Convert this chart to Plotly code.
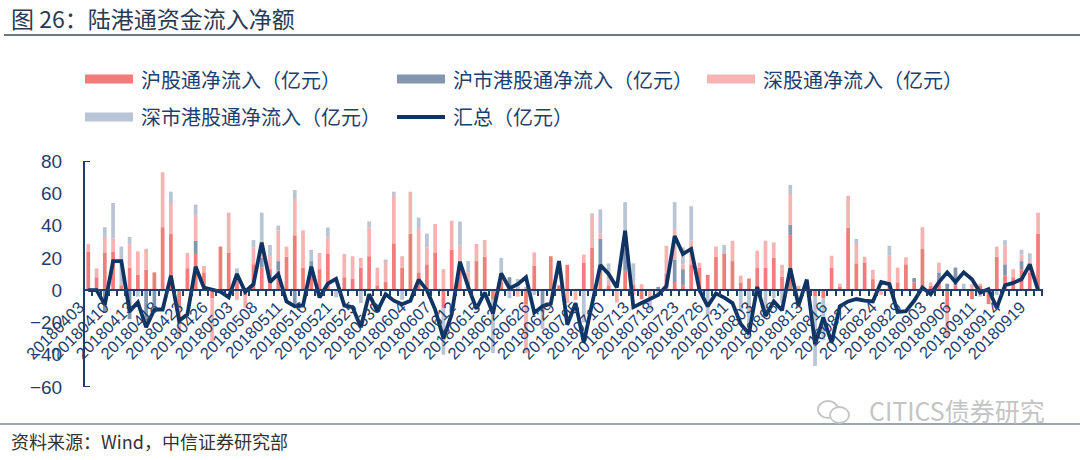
import pandas as pd
import plotly.graph_objects as go

# ---- trading days (Stock Connect, 2018-04-03 .. 2018-09-20) ----
CLOSED = ["2018-04-05", "2018-04-06", "2018-04-30", "2018-05-01",
          "2018-05-22", "2018-06-18", "2018-07-02"]
trade_days = [d.strftime("%Y%m%d") for d in pd.bdate_range("2018-04-03", "2018-09-20")
              if d.strftime("%Y-%m-%d") not in CLOSED]

# ---- net inflows, 亿元 ----
sh_north = [24, 8, 23, 24, 3, 14, 9.5, 12.6, 11, 39, 35, -11, 13.6, 23, 11,
            -5, 27, 23, 5, -3, 16, 14, 13, 12, 20.7, 34, 14, 12, 13, 22.8,
            0, 8, 7, 14, 21, 3, 5, 29, 14, 35, 11, 16, 23.4, -11, 25,
            18, 5, 18, 20.7, -6, 5, 2, 0, -9, 15, 0, 21, 3, 15.7, 0,
            17, 26.5, 15, 3, 0, 12, 3.6, -5.6, 0, 0, 10, 5, 3, 16, 14,
            9.5, 20.7, 22.8, 18, 4.8, 7.2, 13.7, 14, 20, 8.3, 33.7, 0, 2, -4, -5,
            14, 2, 38.5, 16.6, 17.2, 6.8, 0, 4.8, 4.8, 16, 4.8, 25.5, 2.7, 5, -12,
            3, 0, -5.6, 3, -8.7, 20.7, 9, 8, 13, 11, 34.8]
sh_south = [0, 0, -14, 0, 0, -18, 0, -21, -10, 0, 0, 0, 0, 7.6, 0,
            0, 0, 0, 5, 0, 0, 6, 0, 6, 0, -9, 0, 6, 0, 0,
            0, 0, 0, 0, 0, 0, 0, 0, 0, 0, 0, 0, 0, 0, 0,
            0, 0, 0, 0, 0, 0, 6, 0, 0, 0, -14, 0, 0, 0, 0,
            0, 0, 17, 0, 0, 14, 0, 0, 0, 2, 0, 14, 10, 0, 0,
            0, 0, 0, 0, 0, 0, 0, 0, 0, 0, 6.9, 0, 0, 0, 0,
            0, 0, 0, 0, 0, 0, 0, 0, 0, 0, 2.7, 0, 0, 6, 4,
            11, 0, 0, 0, 0, 0, 7, 0, 5, 0, 0]
sz_north = [4.5, 5.5, 10, 8, 0, 14.5, 14.5, 13, 0, 34, 19, -18, 9.4, 15.4, 4,
            -27, 0, 25, -6, -8, 10.5, 10.6, 8, 19, 6.3, 22.5, 23, 0, 10, 10,
            0, 14.4, 14, 6, 18, 11, 13, 30, 7, 26, 27, 10.5, 17.6, 13, 18,
            9.5, 6, 10.6, 10.3, 0, 4, 0, -4, -30, 8.4, 0, 0, 0, -8, -6,
            5, 19.5, 3, 3.6, -7.7, 8, -3, 3.7, -6, 0, 17.5, 19, 3, 14.6, 3,
            0, 6.3, 0, 12.6, 4.2, 0, 10.7, 16.6, 9.6, 7.4, 19, 2.7, 0, 0, 0,
            7.3, 2, 20, 12, 3.5, 5.8, -3, 16.5, 9.2, 4.3, 0, 13.5, 2.1, 6, -18,
            0, 0, 3.7, 1, 0, 6.3, 11.5, 5, 4, 7, 13.2]
sz_south = [0, 0, 6, 22, 24, 4.5, -4, 0, 0, 0, 7, 0, 0, 7, 0,
            0, 0, 0, 3.5, 0, 4.5, 17.4, 7, 3, 0, 5.5, 0, 7, 0, 6,
            -4.5, 0, 0, -8, 3.6, 0, 1, 2, -6, 0, 7, 8.5, 0, -29, 0,
            15, 7, 0, 0, -33, 11, -5, 7, 2, -3, -10, 0, 0, 0, 0,
            -20, 1.5, 15, 10, 0, 20.5, 13, 0, -6, -4, 0, 16.5, 10.5, 21.4, 0,
            -16, 0, 5.2, 0, -13, -30, 0, -16, -5, -8, 5.6, 0, 0, -43, -26,
            0, 0, 0, 3.1, 0, 0, 0, 6.2, 0, 0, 0, 0, 0, 0, 0,
            0, 4, 0, -4, 0, -3, 3.5, 0, 3, 4.8, 0]
total = [0, 0, -9, 18, 18, -13, -7.6, -23, -12, -12, 9, -19, -15, 14.5, 1.5,
         0, -1, -4.5, 10, -1, 3.7, 29.5, 5, 10, -7, -10, -9.5, 14.5, -4.5, 4,
         7, -9.5, -10.5, -23, -2.5, -13, -2.5, -6.5, -8.7, -6.6, 6.5, 0, -12, -30, -15,
         17.5, 2, -11.5, -1.5, -14.5, 10.4, 1, 3.7, 8, -14, -10, -8.5, 18, -21.5, -8,
         -32.5, -8.5, 15.5, 10, 1.6, 36.8, -10.5, -8, -5.5, -3, 2.5, 33.5, 22.4, 25.5, 0,
         -10, -2, -4.6, -8, -21, -27, 2, -16, -7, -12.5, 13.5, -9.5, 6.5, -33.5, -17,
         -32.5, -10, -7, -5.5, -6.5, -7, 5, 3.7, -13.5, -13, -6.6, 1.6, -2.5, 5, 11,
         5, 11, 6.8, -1.5, 0.6, -11, 3, 4.5, 6.8, 16, 0]

series_names = ["沪股通净流入（亿元）", "沪市港股通净流入（亿元）",
                "深股通净流入（亿元）", "深市港股通净流入（亿元）"]
series_colors = ["#F27C79", "#8496AF", "#F7B3B1", "#B9C4D4"]
line_name = "汇总（亿元）"
line_color = "#0F3464"
axis_color = "#1F3E6E"

y_ticks = [-60, -40, -20, 0, 20, 40, 60, 80]
label_step = 3

idx = list(range(len(trade_days)))

fig = go.Figure()
for name, vals, col in zip(series_names, [sh_north, sh_south, sz_north, sz_south], series_colors):
    fig.add_trace(go.Bar(x=idx, y=vals, name=name, marker=dict(color=col, line=dict(width=0)),
                         showlegend=False, hoverinfo="skip"))
fig.add_trace(go.Scatter(x=idx, y=total, name=line_name, mode="lines",
                         line=dict(color=line_color, width=3.8), showlegend=False,
                         hoverinfo="skip"))

# ---- page geometry (pixels) ----
W, H = 1080, 460
L, R, T, B = 85, 1043, 161, 387


def px(xp):
    return (xp - L) / (R - L)


def py(yp):
    return (B - yp) / (B - T)


CJK = "Noto Sans CJK SC"
NUM = "Liberation Sans, Arial, sans-serif"

shapes = []
annotations = []

# title and rules
annotations.append(dict(text="图 26：陆港通资金流入净额", x=px(9), y=py(18), xref="paper", yref="paper",
                        xanchor="left", yanchor="middle", showarrow=False,
                        font=dict(family=CJK, size=23, color="#2A3A52")))
shapes.append(dict(type="line", xref="paper", yref="paper", x0=px(4), x1=px(1080),
                   y0=py(35), y1=py(35), line=dict(color="#3A4A60", width=1.3)))
shapes.append(dict(type="line", xref="paper", yref="paper", x0=px(0), x1=px(1080),
                   y0=py(424), y1=py(424), line=dict(color="#3A4A60", width=1.0)))
annotations.append(dict(text="资料来源：Wind，中信证券研究部", x=px(9), y=py(441), xref="paper", yref="paper",
                        xanchor="left", yanchor="middle", showarrow=False,
                        font=dict(family=CJK, size=18, color="#333333")))

# watermark
annotations.append(dict(text="CITICS债券研究", x=px(1047), y=py(410), xref="paper", yref="paper",
                        xanchor="right", yanchor="middle", showarrow=False,
                        font=dict(family=CJK, size=25, color="#C4C4C4")))
shapes.append(dict(type="circle", xref="paper", yref="paper", x0=px(818), x1=px(838),
                   y0=py(418), y1=py(401), line=dict(color="#C4C4C4", width=1.8)))
shapes.append(dict(type="circle", xref="paper", yref="paper", x0=px(830), x1=px(849),
                   y0=py(423), y1=py(407), line=dict(color="#C4C4C4", width=1.8),
                   fillcolor="white"))

# legend (wide swatches)
legend_items = [
    (85, 79, series_names[0], series_colors[0], "bar"),
    (397, 79, series_names[1], series_colors[1], "bar"),
    (707, 79, series_names[2], series_colors[2], "bar"),
    (85, 117, series_names[3], series_colors[3], "bar"),
    (397, 117, line_name, line_color, "line"),
]
for x0, yc, text, col, kind in legend_items:
    if kind == "bar":
        shapes.append(dict(type="rect", xref="paper", yref="paper", x0=px(x0), x1=px(x0 + 48),
                           y0=py(yc + 4.5), y1=py(yc - 4.5), fillcolor=col, line=dict(width=0)))
    else:
        shapes.append(dict(type="line", xref="paper", yref="paper", x0=px(x0), x1=px(x0 + 48),
                           y0=py(yc), y1=py(yc), line=dict(color=col, width=3.8)))
    annotations.append(dict(text=text, x=px(x0 + 54), y=py(yc), xref="paper", yref="paper",
                            xanchor="left", yanchor="middle", showarrow=False,
                            font=dict(family=CJK, size=20, color=axis_color)))

# end caps on the value axis
for yv in (y_ticks[0], y_ticks[-1]):
    shapes.append(dict(type="line", xref="paper", yref="y", x0=0, x1=px(L + 5), y0=yv, y1=yv,
                       line=dict(color=axis_color, width=2)))

zero_pos = (0 - y_ticks[0]) / (y_ticks[-1] - y_ticks[0])

fig.update_layout(
    width=W, height=H,
    margin=dict(l=L, r=W - R, t=T, b=H - B, autoexpand=False),
    paper_bgcolor="white", plot_bgcolor="white",
    barmode="relative", bargap=0.55,
    shapes=shapes, annotations=annotations,
    showlegend=False,
    xaxis=dict(
        range=[-0.4, len(idx) - 0.4],
        anchor="free", position=zero_pos,
        showline=True, linecolor=axis_color, linewidth=2,
        showgrid=False, zeroline=False,
        tickmode="array",
        tickvals=idx[::label_step],
        ticktext=trade_days[::label_step],
        tickangle=-45, ticks="",
        ticklabelshift=-9,
        tickfont=dict(family=NUM, size=16.5, color=axis_color),
        minor=dict(ticks="outside", tick0=0.5, dtick=1, ticklen=5,
                   tickcolor=axis_color, tickwidth=1.5, showgrid=False),
        automargin=False,
    ),
    yaxis=dict(
        range=[y_ticks[0], y_ticks[-1]],
        tickvals=y_ticks,
        showline=True, linecolor=axis_color, linewidth=2,
        showgrid=False, zeroline=False, ticks="",
        ticklabelstandoff=17,
        tickfont=dict(family=NUM, size=19, color=axis_color),
        automargin=False,
    ),
)

fig.write_html("out.html")
